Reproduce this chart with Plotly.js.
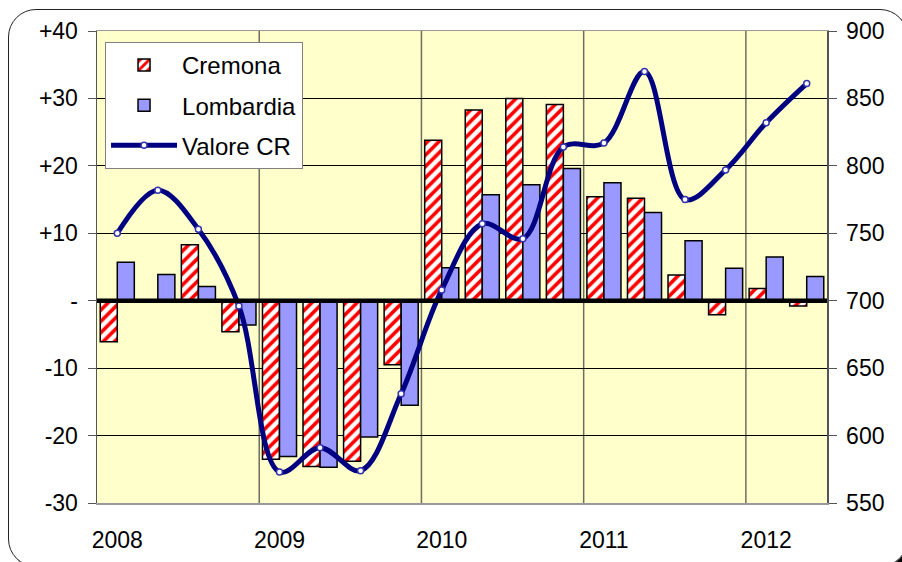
<!DOCTYPE html>
<html>
<head>
<meta charset="utf-8">
<script src="https://cdn.plot.ly/plotly-3.0.1.min.js"></script>
<style>
  body { margin: 0; background: #fff; overflow: hidden; }
  #frame {
    position: absolute; left: 8px; top: 9px; width: 900px; height: 558px;
    border: 1.5px solid #222; border-radius: 28px; box-sizing: border-box;
    box-shadow: 3px 3px 0 #000;
  }
  #chart { position: absolute; left: 0; top: 0; width: 902px; height: 562px; }
</style>
</head>
<body>
<div id="frame"></div>
<div id="chart"></div>
<script>
// quarters 2008 Q1 .. 2012 Q2
const quarters = [0, 1, 2, 3, 4, 5, 6, 7, 8, 9, 10, 11, 12, 13, 14, 15, 16, 17];
const yearLabels = ['2008', '2009', '2010', '2011', '2012'];
const yearTicks = [0, 4, 8, 12, 16];
const yearBounds = [3.5, 7.5, 11.5, 15.5];

const cremona = [-6.1, 0, 8.3, -4.6, -23.5, -24.6, -23.8, -9.5, 23.8, 28.3, 30.0, 29.1, 15.4, 15.2, 3.8, -2.1, 1.8, -0.8];
const lombardia = [5.7, 3.9, 2.1, -3.6, -23.1, -24.7, -20.2, -15.5, 4.9, 15.7, 17.2, 19.6, 17.5, 13.1, 8.9, 4.8, 6.5, 3.6];
const valoreCR = [750, 782, 753, 696, 573, 591, 574, 631, 708, 757, 746, 814, 817, 870, 775, 797, 832, 861];

const leftTicks = [40, 30, 20, 10, 0, -10, -20, -30];
const leftLabels = ['+40', '+30', '+20', '+10', '-', '-10', '-20', '-30'];
const rightTicks = [550, 600, 650, 700, 750, 800, 850, 900];

const font = { family: 'Liberation Sans, Arial, sans-serif', size: 23, color: '#000' };

const traceCremona = {
    type: 'bar',
    x: quarters,
    y: cremona,
    name: 'Cremona',
    legendgroup: 'a',
    marker: {
        color: '#ffffff',
        line: { color: '#000', width: 1.5 },
        pattern: { shape: '/', fgcolor: '#ff0000', bgcolor: '#ffffff', size: 8, solidity: 0.45 }
    },
    hoverinfo: 'skip'
};
const traceLombardia = {
    type: 'bar',
    x: quarters,
    y: lombardia,
    name: 'Lombardia',
    legendgroup: 'b',
    marker: { color: '#9999ff', line: { color: '#000', width: 1.5 } },
    hoverinfo: 'skip'
};
const traceValore = {
    type: 'scatter',
    mode: 'lines+markers',
    x: quarters,
    y: valoreCR,
    yaxis: 'y2',
    name: 'Valore CR',
    legendgroup: 'c',
    line: { color: '#000080', width: 5, shape: 'spline', smoothing: 1 },
    marker: { size: 6, color: '#ffffff', line: { color: '#3333aa', width: 1.5 } },
    hoverinfo: 'skip'
};

// vertical grid lines at year boundaries
const shapes = yearBounds.map(b => ({
    type: 'line', xref: 'x', yref: 'paper',
    x0: b, x1: b, y0: 0, y1: 1,
    line: { color: '#6e6e5e', width: 1.5 },
    layer: 'below'
}));
// thick zero line drawn over the bars
shapes.push({
    type: 'line', xref: 'paper', yref: 'y',
    x0: 0, x1: 1, y0: 0, y1: 0,
    line: { color: '#000', width: 4.5 },
    layer: 'above'
});

const layout = {
    width: 902,
    height: 562,
    margin: { l: 97, r: 75, t: 31, b: 59 },
    paper_bgcolor: 'rgba(0,0,0,0)',
    plot_bgcolor: '#ffffcc',
    font: font,
    barmode: 'group',
    bargap: 0.16,
    bargroupgap: 0,
    showlegend: true,
    legend: {
        x: 0.011, y: 0.977, xanchor: 'left', yanchor: 'top',
        bgcolor: '#ffffff', bordercolor: '#808080', borderwidth: 1,
        font: { family: font.family, size: 24, color: '#000' },
        traceorder: 'grouped',
        tracegroupgap: 6,
        itemwidth: 66
    },
    xaxis: {
        range: [-0.5, 17.5],
        tickvals: yearTicks,
        ticktext: yearLabels,
        ticks: '',
        ticklabelstandoff: 16,
        showgrid: false,
        zeroline: false,
        showline: true,
        mirror: true,
        linecolor: '#999999',
        linewidth: 1.5
    },
    yaxis: {
        range: [-30, 40],
        tickvals: leftTicks,
        ticktext: leftLabels,
        ticks: 'outside',
        ticklen: 8,
        tickcolor: '#555',
        ticklabelstandoff: 5,
        showgrid: true,
        gridcolor: '#000',
        gridwidth: 1,
        zeroline: false,
        showline: true,
        linecolor: '#555',
        linewidth: 1.5
    },
    yaxis2: {
        overlaying: 'y',
        side: 'right',
        range: [550, 900],
        tickvals: rightTicks,
        ticks: 'outside',
        ticklen: 8,
        tickcolor: '#555',
        ticklabelstandoff: 5,
        showgrid: false,
        zeroline: false,
        showline: true,
        linecolor: '#555',
        linewidth: 1.5
    },
    shapes: shapes
};

Plotly.newPlot('chart', [traceCremona, traceLombardia, traceValore], layout, { staticPlot: true });
</script>
</body>
</html>
